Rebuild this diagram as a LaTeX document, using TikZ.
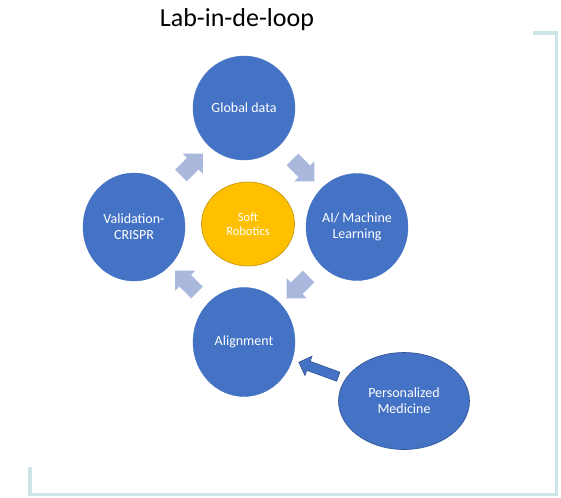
\documentclass[tikz,border=0pt]{standalone}
\usepackage{fontspec}
\setmainfont{Carlito}
\usetikzlibrary{shapes.arrows,shapes.geometric,calc}
\definecolor{circblue}{RGB}{68,114,196}
\definecolor{circedge}{RGB}{47,82,143}
\definecolor{softfill}{RGB}{255,192,0}
\definecolor{softedge}{RGB}{191,144,0}
\definecolor{blockarrow}{RGB}{170,184,222}
\definecolor{frameteal}{RGB}{205,228,230}
\tikzset{
  bigcirc/.style={ellipse, fill=circblue, draw=circblue, text=white, align=center,
    inner sep=0pt, font=\fontsize{14}{16}\selectfont},
  blockarr/.style={single arrow, fill=blockarrow, draw=none, minimum height=31pt,
    inner sep=8pt, single arrow head extend=6pt, single arrow tip angle=90},
  pmarr/.style={single arrow, fill=circblue, draw=circedge, line width=0.6pt,
    minimum height=42pt, inner sep=4.5pt, single arrow head extend=5.5pt,
    single arrow tip angle=90},
  framestyle/.style={draw=frameteal, line width=3.5pt}
}
\begin{document}
\begin{tikzpicture}[x=1pt,y=-1pt]
\useasboundingbox (0,0) rectangle (561,497);
% frame
\draw[framestyle] (533,33) -- (556.5,33) -- (556.5,494.5) -- (30,494.5) -- (30,467);
% title
\node[font=\fontsize{26}{30}\selectfont] (title) at (237,20) {Lab-in-de-loop};
% main circles
\node[bigcirc, minimum width=102pt, minimum height=104pt] (glob) at (244,108) {Global data};
\node[bigcirc, minimum width=102pt, minimum height=107pt] (ai) at (357,227) {AI/ Machine\\Learning};
\node[bigcirc, minimum width=102pt, minimum height=108pt] (val) at (134,227) {Validation-\\CRISPR};
\node[bigcirc, minimum width=102pt, minimum height=109pt] (align) at (244,342) {Alignment};
\node[ellipse, fill=softfill, draw=softedge, line width=0.6pt, text=white, align=center,
  inner sep=0pt, minimum width=93pt, minimum height=84pt,
  font=\fontsize{12.5}{14}\selectfont] (soft) at (248,224) {Soft\\Robotics};
\node[bigcirc, draw=circedge, line width=0.6pt, minimum width=131pt, minimum height=97pt]
  (pm) at (404,401) {Personalized\\Medicine};
% block arrows of the loop
\node[blockarr, rotate=45] (a1) at ($(val)!0.5!(glob)$) {};
\node[blockarr, rotate=-45] (a2) at ($(glob)!0.5!(ai)$) {};
\node[blockarr, rotate=-135] (a3) at ($(ai)!0.5!(align)$) {};
\node[blockarr, rotate=135] (a4) at ($(align)!0.5!(val)$) {};
% personalized medicine arrow
\node[pmarr, rotate=160] (a5) at ($(pm)!0.52!(align)$) {};
\end{tikzpicture}
\end{document}
